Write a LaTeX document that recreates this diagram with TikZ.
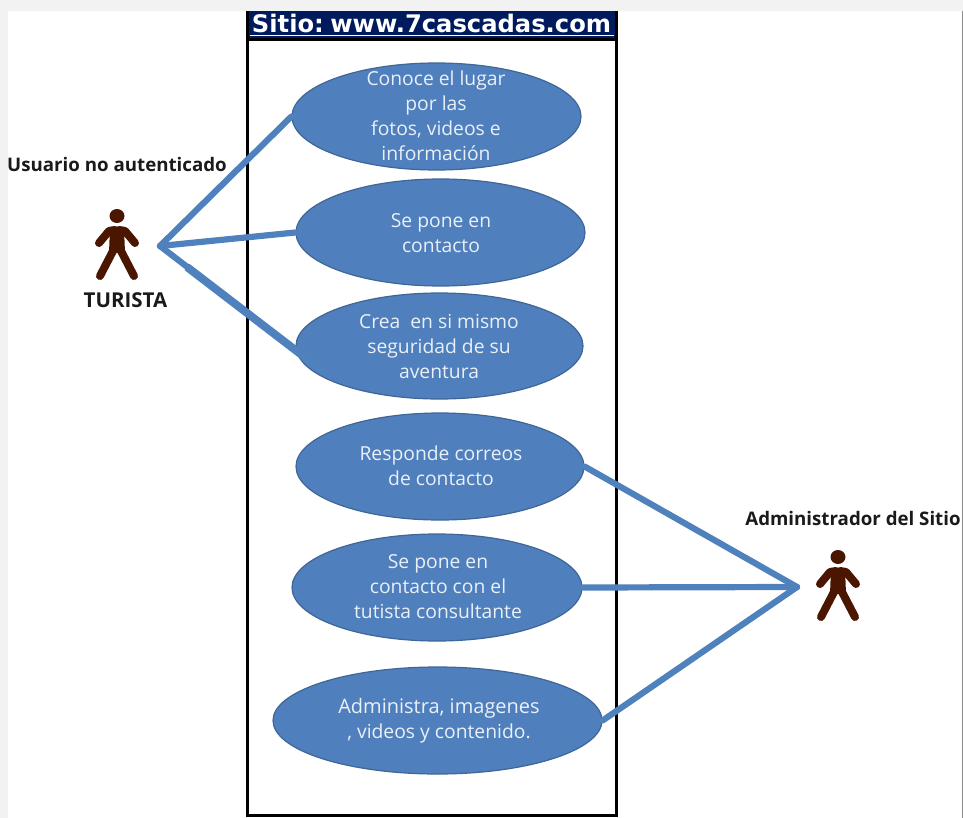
\documentclass[tikz,border=0pt]{standalone}
\usepackage{fontspec}
\setmainfont{Open Sans}
\newfontfamily\titlefont{DejaVu Sans}
\newfontfamily\labelfont{Open Sans}
\definecolor{ucfill}{HTML}{4F7FBC}
\definecolor{ucedge}{HTML}{3F6696}
\definecolor{conn}{HTML}{4F81BD}
\definecolor{actorcol}{HTML}{4A1600}
\definecolor{navy}{HTML}{001A5E}
\definecolor{labelcol}{HTML}{1A1A1A}
\tikzset{
  usecase/.style={ellipse,fill=ucfill,draw=ucedge,line width=1.2pt,minimum width=#1,minimum height=107pt,inner sep=0pt},
  uctext/.style={text=white!88!ucfill,font=\fontsize{19.3}{25}\selectfont,align=center},
  connector/.style={conn,line width=6.2pt,line cap=round},
  actorlabel/.style={text=labelcol,font=\labelfont\bfseries\fontsize{18.7}{22}\selectfont,inner sep=0pt},
  limb/.style={actorcol,line width=8pt,line cap=round,line join=round},
}
\usetikzlibrary{shapes.geometric}
\newcommand{\actorfig}[2]{%
  \begin{scope}[shift={(#1,#2)}]
    \fill[actorcol] (0,-30) ellipse (7.5pt and 7pt);
    \fill[actorcol] (-7,-19) -- (7,-19) -- (8,7) -- (-8,7) -- cycle;
    \draw[limb] (-2,-16) -- (-8,-15) -- (-18,-3);
    \draw[limb] (2,-16) -- (8,-15) -- (18,-3);
    \draw[limb] (-3,3) -- (-17,30);
    \draw[limb] (3,3) -- (17,30);
  \end{scope}}
\begin{document}
\begin{tikzpicture}[x=1pt,y=-1pt]
\useasboundingbox (0,0) rectangle (963,818);
\fill[white] (0,0) rectangle (963,818);
\fill[black!5] (0,0) rectangle (963,11);
\fill[black!5] (0,0) rectangle (8,818);
\fill[black!45] (962,11) rectangle (963,818);
% system box
\fill[navy] (247,11) rectangle (616,38);
\node[text=white,font=\titlefont\bfseries\fontsize{24.2}{26}\selectfont,inner sep=0pt] (title) at (431.5,23) {Sitio:\kern-2pt\ www.7cascadas.com};
\draw[white,line width=1.2pt] (250,35.5) -- (614,35.5);
\draw[black,line width=3pt] (247.5,11) -- (247.5,815.5) -- (616,815.5) -- (616,11);
\draw[black,line width=3pt] (247.5,39.5) -- (616,39.5);
% use cases
\node[usecase=289pt] (e1) at (436.5,116.5) {};
\node[usecase=289pt] (e2) at (440.5,232.5) {};
\node[usecase=287pt,minimum height=106pt] (e3) at (439.5,346) {};
\node[usecase=288pt] (e4) at (440,466.5) {};
\node[usecase=290pt] (e5) at (437,587.5) {};
\node[usecase=329pt] (e6) at (437.5,720.5) {};
% connectors
\coordinate (hubA) at (160,246);
\coordinate (hubB) at (797,587);
\coordinate (thickA) at (187,267);
\coordinate (e3end) at (324,372);
\draw[connector] (hubA) -- (e1.west);
\draw[connector] (hubA) -- (e2.west);
\draw[connector] (hubA) -- (e3end);
\draw[conn,line width=8pt] (thickA) -- (e3end);
\draw[connector] (hubB) -- (e4.east);
\draw[connector] (hubB) -- (e5.east);
\draw[connector] (hubB) -- (e6.east);
% texts
\node[uctext] (t1) at (436,115.5) {Conoce el lugar\\por las\\fotos, videos e\\información};
\node[uctext] (t2) at (441,233) {Se pone en\\contacto};
\node[uctext] (t3) at (439,347) {Crea\ \ en si mismo\\seguridad de su\\aventura};
\node[uctext] (t4) at (441,466) {Responde correos\\de contacto};
\node[uctext] (t5) at (438,587) {Se pone en\\contacto con el\\tutista consultante};
\node[uctext] (t6) at (439,721) {\fontsize{20}{25}\selectfont Administra, imagenes\\, videos y contenido.};
% actors
\actorfig{117}{246}
\actorfig{838}{587}
\node[actorlabel] (a1) at (117,164) {Usuario no autenticado};
\node[actorlabel] (a2) at (125.5,300) {\fontsize{20.5}{22}\selectfont TURISTA};
\node[actorlabel] (a3) at (853,518) {Administrador del Sitio};
\end{tikzpicture}
\end{document}
